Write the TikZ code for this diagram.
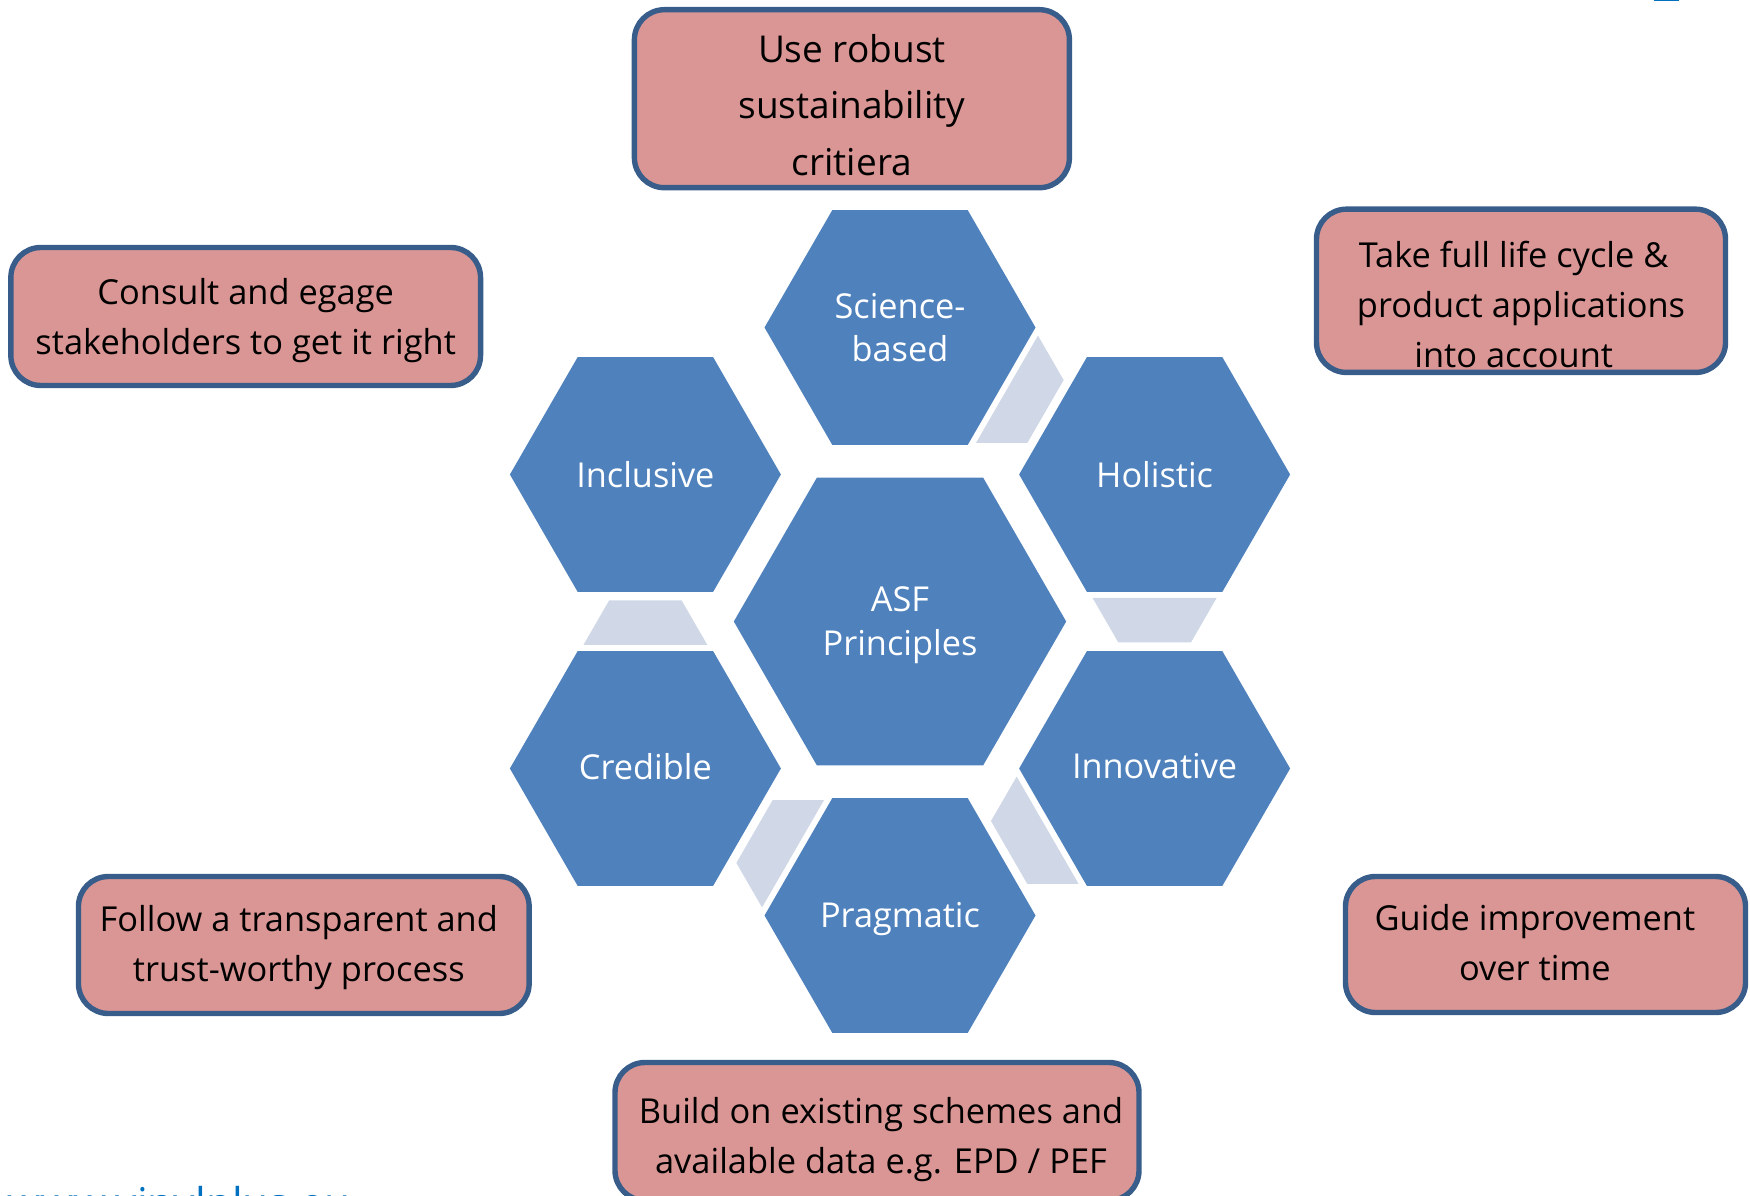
\documentclass[tikz,border=0pt]{standalone}
\usepackage{fontspec}
\setmainfont{Open Sans}
\usetikzlibrary{shapes.geometric, calc}
\definecolor{hexblue}{HTML}{4F81BD}
\definecolor{gapblue}{HTML}{D0D8E8}
\definecolor{notepink}{HTML}{D99694}
\definecolor{noteedge}{HTML}{385D8A}
\definecolor{urlblue}{HTML}{0070C0}
\begin{document}
\begin{tikzpicture}[x = 0.5pt, y = 0.5pt,
	hexagon/.style = { regular polygon, regular polygon sides = 6, fill = hexblue, text = white, align = center, inner sep = 0pt, outer sep = 0pt, font = \fontsize{17.15pt}{21.7pt}\selectfont },
	hexsmall/.style = { hexagon, minimum size = 135.5pt },
	hexbig/.style = { hexagon, minimum size = 166.2pt },
	gapfill/.style = { fill = gapblue },
	notebox/.style = { draw = noteedge, line width = 2.7pt, fill = notepink, rounded corners = 15pt, align = center, inner sep = 1pt, font = \fontsize{17.2pt}{25pt}\selectfont }]
	\useasboundingbox (0, 0) rectangle (1750, 1195);
	\clip (0, 0) rectangle (1750, 1195);
	\node [hexbig] (asf) at (900, 573.5) {\rule{0pt}{16.2pt}ASF\\Principles};
	\node [hexsmall] (science) at ($(asf) + (90:294)$) {Science-\\based};
	\node [hexsmall] (holistic) at ($(asf) + (30:294)$) {Holistic};
	\node [hexsmall] (innovative) at ($(asf) + (-30:294)$) {Innovative\rule[-2.2pt]{0pt}{2.2pt}};
	\node [hexsmall] (pragmatic) at ($(asf) + (-90:294)$) {\rule{0pt}{16.4pt}Pragmatic};
	\node [hexsmall] (credible) at ($(asf) + (-150:294)$) {Credible\rule[-2.2pt]{0pt}{2.2pt}};
	\node [hexsmall] (inclusive) at ($(asf) + (150:294)$) {Inclusive};
	\foreach \from/\dir in {science/-30, holistic/-90, innovative/-150, pragmatic/150, credible/90}
		\fill [gapfill, shift = {(\from.center)}, rotate = \dir] (123.5, -62) -- (123.5, 62) -- (168, 36.3) -- (168, -36.3) -- cycle;
	\node [notebox, font = \fontsize{18.5pt}{28.3pt}\selectfont, minimum width = 217.5pt, minimum height = 89pt] (robust) at (851.9, 1096.3) {\rule{0pt}{20.1pt}Use robust\\sustainability\\critiera};
	\node [notebox, minimum width = 234.85pt, minimum height = 69pt] (consult) at (245.7, 878.5) {\rule{0pt}{17.6pt}Consult and egage\\stakeholders to get it right};
	\node [notebox, minimum width = 204.5pt, minimum height = 81.65pt] (lifecycle) at (1521, 904.2) {\rule{0pt}{27.1pt}Take full life cycle \&\hspace*{7.3pt}\\product applications\hspace*{7.3pt}\\into account\hspace*{7.3pt}};
	\node [notebox, minimum width = 225.35pt, minimum height = 68.5pt] (process) at (303.8, 250) {\rule{0pt}{15.3pt}Follow a transparent and\hspace*{5pt}\\trust-worthy process\hspace*{5pt}};
	\node [notebox, minimum width = 200pt, minimum height = 68pt] (improve) at (1545.5, 250.5) {Guide improvement\hspace*{10.6pt}\\over time\hspace*{10.6pt}\rule[-2.2pt]{0pt}{2.2pt}};
	\node [notebox, minimum width = 262pt, minimum height = 69pt] (existing) at (877, 63.5) {\hspace*{4pt}\rule{0pt}{20.9pt}Build on existing schemes and\\\hspace*{4pt}available data e.g. EPD / PEF};
	\node [anchor = base west, text = urlblue, inner sep = 0pt, font = \fontsize{21.2pt}{25pt}\selectfont] (url) at (7, -23) {www.vinylplus.eu};
	\fill [urlblue] (1654, 1193.5) rectangle (1679, 1196);
\end{tikzpicture}
\end{document}
